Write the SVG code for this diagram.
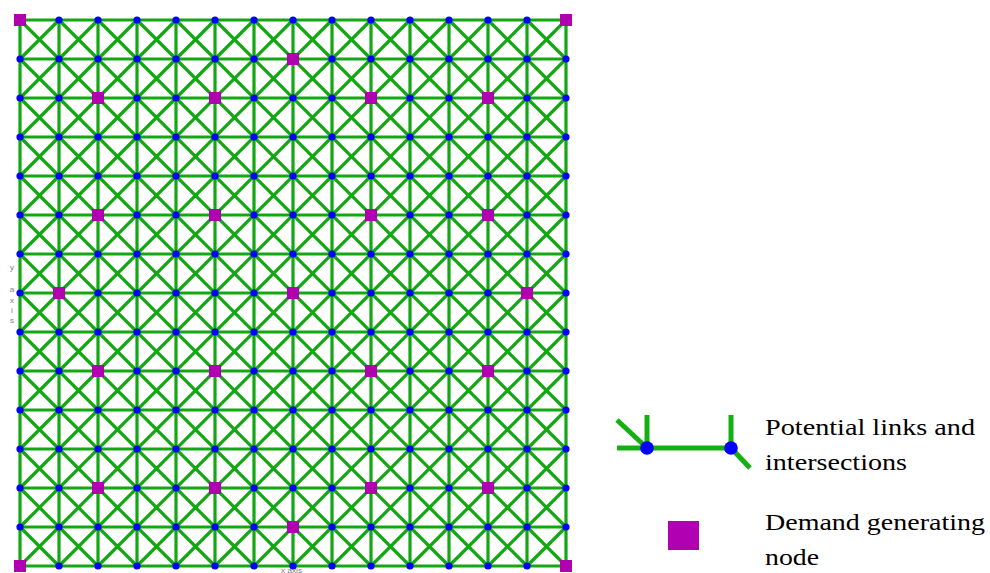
<svg xmlns="http://www.w3.org/2000/svg" xmlns:xlink="http://www.w3.org/1999/xlink" width="990" height="573" viewBox="0 0 990 573">
<style>
.link{fill:none;stroke:#12a812;stroke-width:3.2;stroke-linecap:butt}
.leglink{fill:none;stroke:#14b014;stroke-width:5}
.dem{fill:#b000b0}
.axis{font-family:"Liberation Sans",Arial,sans-serif;font-size:8px;fill:#808080}
.lab{font-family:"Liberation Serif","Times New Roman",serif;font-size:24px;fill:#000}
</style>
<defs>
<circle id="dot" cx="0" cy="0" r="3.6" fill="#0000ff"/>
</defs>
<rect width="990" height="573" fill="#fff"/>
<g id="connectors">
<path class="link" d="M20 20L566 566M59 20L566 527M98 20L566 488M137 20L566 449M176 20L566 410M215 20L566 371M254 20L566 332M293 20L566 293M332 20L566 254M371 20L566 215M410 20L566 176M449 20L566 137M488 20L566 98M527 20L566 59M20 59L527 566M20 98L488 566M20 137L449 566M20 176L410 566M20 215L371 566M20 254L332 566M20 293L293 566M20 332L254 566M20 371L215 566M20 410L176 566M20 449L137 566M20 488L98 566M20 527L59 566"/>
<path class="link" d="M59 20L20 59M98 20L20 98M137 20L20 137M176 20L20 176M215 20L20 215M254 20L20 254M293 20L20 293M332 20L20 332M371 20L20 371M410 20L20 410M449 20L20 449M488 20L20 488M527 20L20 527M566 20L20 566M566 59L59 566M566 98L98 566M566 137L137 566M566 176L176 566M566 215L215 566M566 254L254 566M566 293L293 566M566 332L332 566M566 371L371 566M566 410L410 566M566 449L449 566M566 488L488 566M566 527L527 566"/>
<path class="link" d="M20 20H566M20 59H566M20 98H566M20 137H566M20 176H566M20 215H566M20 254H566M20 293H566M20 332H566M20 371H566M20 410H566M20 449H566M20 488H566M20 527H566M20 566H566"/>
<path class="link" d="M20 20V566M59 20V566M98 20V566M137 20V566M176 20V566M215 20V566M254 20V566M293 20V566M332 20V566M371 20V566M410 20V566M449 20V566M488 20V566M527 20V566M566 20V566"/>
</g>
<g id="intersections">
<g id="p0-1"><use href="#dot" x="59" y="20"/></g><g id="p0-2"><use href="#dot" x="98" y="20"/></g><g id="p0-3"><use href="#dot" x="137" y="20"/></g><g id="p0-4"><use href="#dot" x="176" y="20"/></g><g id="p0-5"><use href="#dot" x="215" y="20"/></g><g id="p0-6"><use href="#dot" x="254" y="20"/></g><g id="p0-7"><use href="#dot" x="293" y="20"/></g><g id="p0-8"><use href="#dot" x="332" y="20"/></g><g id="p0-9"><use href="#dot" x="371" y="20"/></g><g id="p0-10"><use href="#dot" x="410" y="20"/></g><g id="p0-11"><use href="#dot" x="449" y="20"/></g><g id="p0-12"><use href="#dot" x="488" y="20"/></g><g id="p0-13"><use href="#dot" x="527" y="20"/></g>
<g id="p1-0"><use href="#dot" x="20" y="59"/></g><g id="p1-1"><use href="#dot" x="59" y="59"/></g><g id="p1-2"><use href="#dot" x="98" y="59"/></g><g id="p1-3"><use href="#dot" x="137" y="59"/></g><g id="p1-4"><use href="#dot" x="176" y="59"/></g><g id="p1-5"><use href="#dot" x="215" y="59"/></g><g id="p1-6"><use href="#dot" x="254" y="59"/></g><g id="p1-8"><use href="#dot" x="332" y="59"/></g><g id="p1-9"><use href="#dot" x="371" y="59"/></g><g id="p1-10"><use href="#dot" x="410" y="59"/></g><g id="p1-11"><use href="#dot" x="449" y="59"/></g><g id="p1-12"><use href="#dot" x="488" y="59"/></g><g id="p1-13"><use href="#dot" x="527" y="59"/></g><g id="p1-14"><use href="#dot" x="566" y="59"/></g>
<g id="p2-0"><use href="#dot" x="20" y="98"/></g><g id="p2-1"><use href="#dot" x="59" y="98"/></g><g id="p2-3"><use href="#dot" x="137" y="98"/></g><g id="p2-4"><use href="#dot" x="176" y="98"/></g><g id="p2-6"><use href="#dot" x="254" y="98"/></g><g id="p2-7"><use href="#dot" x="293" y="98"/></g><g id="p2-8"><use href="#dot" x="332" y="98"/></g><g id="p2-10"><use href="#dot" x="410" y="98"/></g><g id="p2-11"><use href="#dot" x="449" y="98"/></g><g id="p2-13"><use href="#dot" x="527" y="98"/></g><g id="p2-14"><use href="#dot" x="566" y="98"/></g>
<g id="p3-0"><use href="#dot" x="20" y="137"/></g><g id="p3-1"><use href="#dot" x="59" y="137"/></g><g id="p3-2"><use href="#dot" x="98" y="137"/></g><g id="p3-3"><use href="#dot" x="137" y="137"/></g><g id="p3-4"><use href="#dot" x="176" y="137"/></g><g id="p3-5"><use href="#dot" x="215" y="137"/></g><g id="p3-6"><use href="#dot" x="254" y="137"/></g><g id="p3-7"><use href="#dot" x="293" y="137"/></g><g id="p3-8"><use href="#dot" x="332" y="137"/></g><g id="p3-9"><use href="#dot" x="371" y="137"/></g><g id="p3-10"><use href="#dot" x="410" y="137"/></g><g id="p3-11"><use href="#dot" x="449" y="137"/></g><g id="p3-12"><use href="#dot" x="488" y="137"/></g><g id="p3-13"><use href="#dot" x="527" y="137"/></g><g id="p3-14"><use href="#dot" x="566" y="137"/></g>
<g id="p4-0"><use href="#dot" x="20" y="176"/></g><g id="p4-1"><use href="#dot" x="59" y="176"/></g><g id="p4-2"><use href="#dot" x="98" y="176"/></g><g id="p4-3"><use href="#dot" x="137" y="176"/></g><g id="p4-4"><use href="#dot" x="176" y="176"/></g><g id="p4-5"><use href="#dot" x="215" y="176"/></g><g id="p4-6"><use href="#dot" x="254" y="176"/></g><g id="p4-7"><use href="#dot" x="293" y="176"/></g><g id="p4-8"><use href="#dot" x="332" y="176"/></g><g id="p4-9"><use href="#dot" x="371" y="176"/></g><g id="p4-10"><use href="#dot" x="410" y="176"/></g><g id="p4-11"><use href="#dot" x="449" y="176"/></g><g id="p4-12"><use href="#dot" x="488" y="176"/></g><g id="p4-13"><use href="#dot" x="527" y="176"/></g><g id="p4-14"><use href="#dot" x="566" y="176"/></g>
<g id="p5-0"><use href="#dot" x="20" y="215"/></g><g id="p5-1"><use href="#dot" x="59" y="215"/></g><g id="p5-3"><use href="#dot" x="137" y="215"/></g><g id="p5-4"><use href="#dot" x="176" y="215"/></g><g id="p5-6"><use href="#dot" x="254" y="215"/></g><g id="p5-7"><use href="#dot" x="293" y="215"/></g><g id="p5-8"><use href="#dot" x="332" y="215"/></g><g id="p5-10"><use href="#dot" x="410" y="215"/></g><g id="p5-11"><use href="#dot" x="449" y="215"/></g><g id="p5-13"><use href="#dot" x="527" y="215"/></g><g id="p5-14"><use href="#dot" x="566" y="215"/></g>
<g id="p6-0"><use href="#dot" x="20" y="254"/></g><g id="p6-1"><use href="#dot" x="59" y="254"/></g><g id="p6-2"><use href="#dot" x="98" y="254"/></g><g id="p6-3"><use href="#dot" x="137" y="254"/></g><g id="p6-4"><use href="#dot" x="176" y="254"/></g><g id="p6-5"><use href="#dot" x="215" y="254"/></g><g id="p6-6"><use href="#dot" x="254" y="254"/></g><g id="p6-7"><use href="#dot" x="293" y="254"/></g><g id="p6-8"><use href="#dot" x="332" y="254"/></g><g id="p6-9"><use href="#dot" x="371" y="254"/></g><g id="p6-10"><use href="#dot" x="410" y="254"/></g><g id="p6-11"><use href="#dot" x="449" y="254"/></g><g id="p6-12"><use href="#dot" x="488" y="254"/></g><g id="p6-13"><use href="#dot" x="527" y="254"/></g><g id="p6-14"><use href="#dot" x="566" y="254"/></g>
<g id="p7-0"><use href="#dot" x="20" y="293"/></g><g id="p7-2"><use href="#dot" x="98" y="293"/></g><g id="p7-3"><use href="#dot" x="137" y="293"/></g><g id="p7-4"><use href="#dot" x="176" y="293"/></g><g id="p7-5"><use href="#dot" x="215" y="293"/></g><g id="p7-6"><use href="#dot" x="254" y="293"/></g><g id="p7-8"><use href="#dot" x="332" y="293"/></g><g id="p7-9"><use href="#dot" x="371" y="293"/></g><g id="p7-10"><use href="#dot" x="410" y="293"/></g><g id="p7-11"><use href="#dot" x="449" y="293"/></g><g id="p7-12"><use href="#dot" x="488" y="293"/></g><g id="p7-14"><use href="#dot" x="566" y="293"/></g>
<g id="p8-0"><use href="#dot" x="20" y="332"/></g><g id="p8-1"><use href="#dot" x="59" y="332"/></g><g id="p8-2"><use href="#dot" x="98" y="332"/></g><g id="p8-3"><use href="#dot" x="137" y="332"/></g><g id="p8-4"><use href="#dot" x="176" y="332"/></g><g id="p8-5"><use href="#dot" x="215" y="332"/></g><g id="p8-6"><use href="#dot" x="254" y="332"/></g><g id="p8-7"><use href="#dot" x="293" y="332"/></g><g id="p8-8"><use href="#dot" x="332" y="332"/></g><g id="p8-9"><use href="#dot" x="371" y="332"/></g><g id="p8-10"><use href="#dot" x="410" y="332"/></g><g id="p8-11"><use href="#dot" x="449" y="332"/></g><g id="p8-12"><use href="#dot" x="488" y="332"/></g><g id="p8-13"><use href="#dot" x="527" y="332"/></g><g id="p8-14"><use href="#dot" x="566" y="332"/></g>
<g id="p9-0"><use href="#dot" x="20" y="371"/></g><g id="p9-1"><use href="#dot" x="59" y="371"/></g><g id="p9-3"><use href="#dot" x="137" y="371"/></g><g id="p9-4"><use href="#dot" x="176" y="371"/></g><g id="p9-6"><use href="#dot" x="254" y="371"/></g><g id="p9-7"><use href="#dot" x="293" y="371"/></g><g id="p9-8"><use href="#dot" x="332" y="371"/></g><g id="p9-10"><use href="#dot" x="410" y="371"/></g><g id="p9-11"><use href="#dot" x="449" y="371"/></g><g id="p9-13"><use href="#dot" x="527" y="371"/></g><g id="p9-14"><use href="#dot" x="566" y="371"/></g>
<g id="p10-0"><use href="#dot" x="20" y="410"/></g><g id="p10-1"><use href="#dot" x="59" y="410"/></g><g id="p10-2"><use href="#dot" x="98" y="410"/></g><g id="p10-3"><use href="#dot" x="137" y="410"/></g><g id="p10-4"><use href="#dot" x="176" y="410"/></g><g id="p10-5"><use href="#dot" x="215" y="410"/></g><g id="p10-6"><use href="#dot" x="254" y="410"/></g><g id="p10-7"><use href="#dot" x="293" y="410"/></g><g id="p10-8"><use href="#dot" x="332" y="410"/></g><g id="p10-9"><use href="#dot" x="371" y="410"/></g><g id="p10-10"><use href="#dot" x="410" y="410"/></g><g id="p10-11"><use href="#dot" x="449" y="410"/></g><g id="p10-12"><use href="#dot" x="488" y="410"/></g><g id="p10-13"><use href="#dot" x="527" y="410"/></g><g id="p10-14"><use href="#dot" x="566" y="410"/></g>
<g id="p11-0"><use href="#dot" x="20" y="449"/></g><g id="p11-1"><use href="#dot" x="59" y="449"/></g><g id="p11-2"><use href="#dot" x="98" y="449"/></g><g id="p11-3"><use href="#dot" x="137" y="449"/></g><g id="p11-4"><use href="#dot" x="176" y="449"/></g><g id="p11-5"><use href="#dot" x="215" y="449"/></g><g id="p11-6"><use href="#dot" x="254" y="449"/></g><g id="p11-7"><use href="#dot" x="293" y="449"/></g><g id="p11-8"><use href="#dot" x="332" y="449"/></g><g id="p11-9"><use href="#dot" x="371" y="449"/></g><g id="p11-10"><use href="#dot" x="410" y="449"/></g><g id="p11-11"><use href="#dot" x="449" y="449"/></g><g id="p11-12"><use href="#dot" x="488" y="449"/></g><g id="p11-13"><use href="#dot" x="527" y="449"/></g><g id="p11-14"><use href="#dot" x="566" y="449"/></g>
<g id="p12-0"><use href="#dot" x="20" y="488"/></g><g id="p12-1"><use href="#dot" x="59" y="488"/></g><g id="p12-3"><use href="#dot" x="137" y="488"/></g><g id="p12-4"><use href="#dot" x="176" y="488"/></g><g id="p12-6"><use href="#dot" x="254" y="488"/></g><g id="p12-7"><use href="#dot" x="293" y="488"/></g><g id="p12-8"><use href="#dot" x="332" y="488"/></g><g id="p12-10"><use href="#dot" x="410" y="488"/></g><g id="p12-11"><use href="#dot" x="449" y="488"/></g><g id="p12-13"><use href="#dot" x="527" y="488"/></g><g id="p12-14"><use href="#dot" x="566" y="488"/></g>
<g id="p13-0"><use href="#dot" x="20" y="527"/></g><g id="p13-1"><use href="#dot" x="59" y="527"/></g><g id="p13-2"><use href="#dot" x="98" y="527"/></g><g id="p13-3"><use href="#dot" x="137" y="527"/></g><g id="p13-4"><use href="#dot" x="176" y="527"/></g><g id="p13-5"><use href="#dot" x="215" y="527"/></g><g id="p13-6"><use href="#dot" x="254" y="527"/></g><g id="p13-8"><use href="#dot" x="332" y="527"/></g><g id="p13-9"><use href="#dot" x="371" y="527"/></g><g id="p13-10"><use href="#dot" x="410" y="527"/></g><g id="p13-11"><use href="#dot" x="449" y="527"/></g><g id="p13-12"><use href="#dot" x="488" y="527"/></g><g id="p13-13"><use href="#dot" x="527" y="527"/></g><g id="p13-14"><use href="#dot" x="566" y="527"/></g>
<g id="p14-1"><use href="#dot" x="59" y="566"/></g><g id="p14-2"><use href="#dot" x="98" y="566"/></g><g id="p14-3"><use href="#dot" x="137" y="566"/></g><g id="p14-4"><use href="#dot" x="176" y="566"/></g><g id="p14-5"><use href="#dot" x="215" y="566"/></g><g id="p14-6"><use href="#dot" x="254" y="566"/></g><g id="p14-7"><use href="#dot" x="293" y="566"/></g><g id="p14-8"><use href="#dot" x="332" y="566"/></g><g id="p14-9"><use href="#dot" x="371" y="566"/></g><g id="p14-10"><use href="#dot" x="410" y="566"/></g><g id="p14-11"><use href="#dot" x="449" y="566"/></g><g id="p14-12"><use href="#dot" x="488" y="566"/></g><g id="p14-13"><use href="#dot" x="527" y="566"/></g>
</g>
<g id="demand-nodes">
<g id="d0-0"><rect class="dem" x="14" y="14" width="12" height="12"/></g>
<g id="d0-14"><rect class="dem" x="560" y="14" width="12" height="12"/></g>
<g id="d1-7"><rect class="dem" x="287" y="53" width="12" height="12"/></g>
<g id="d2-2"><rect class="dem" x="92" y="92" width="12" height="12"/></g>
<g id="d2-5"><rect class="dem" x="209" y="92" width="12" height="12"/></g>
<g id="d2-9"><rect class="dem" x="365" y="92" width="12" height="12"/></g>
<g id="d2-12"><rect class="dem" x="482" y="92" width="12" height="12"/></g>
<g id="d5-2"><rect class="dem" x="92" y="209" width="12" height="12"/></g>
<g id="d5-5"><rect class="dem" x="209" y="209" width="12" height="12"/></g>
<g id="d5-9"><rect class="dem" x="365" y="209" width="12" height="12"/></g>
<g id="d5-12"><rect class="dem" x="482" y="209" width="12" height="12"/></g>
<g id="d7-1"><rect class="dem" x="53" y="287" width="12" height="12"/></g>
<g id="d7-7"><rect class="dem" x="287" y="287" width="12" height="12"/></g>
<g id="d7-13"><rect class="dem" x="521" y="287" width="12" height="12"/></g>
<g id="d9-2"><rect class="dem" x="92" y="365" width="12" height="12"/></g>
<g id="d9-5"><rect class="dem" x="209" y="365" width="12" height="12"/></g>
<g id="d9-9"><rect class="dem" x="365" y="365" width="12" height="12"/></g>
<g id="d9-12"><rect class="dem" x="482" y="365" width="12" height="12"/></g>
<g id="d12-2"><rect class="dem" x="92" y="482" width="12" height="12"/></g>
<g id="d12-5"><rect class="dem" x="209" y="482" width="12" height="12"/></g>
<g id="d12-9"><rect class="dem" x="365" y="482" width="12" height="12"/></g>
<g id="d12-12"><rect class="dem" x="482" y="482" width="12" height="12"/></g>
<g id="d13-7"><rect class="dem" x="287" y="521" width="12" height="12"/></g>
<g id="d14-0"><rect class="dem" x="14" y="560" width="12" height="12"/></g>
<g id="d14-14"><rect class="dem" x="560" y="560" width="12" height="12"/></g>
</g>
<g id="axis-labels">
<text class="axis" x="12" y="270" text-anchor="middle">y</text>
<text class="axis" x="12" y="292" text-anchor="middle">a</text>
<text class="axis" x="12" y="303" text-anchor="middle">x</text>
<text class="axis" x="12" y="313" text-anchor="middle">i</text>
<text class="axis" x="12" y="323" text-anchor="middle">s</text>
<text class="axis" x="281" y="572.5" font-size="5" textLength="21" lengthAdjust="spacingAndGlyphs">x axis</text>
</g>
<g id="legend">
<g id="legend-links">
<path class="leglink" d="M617 448H731M647 415V448M731 415V448M617 420L647 448M731 448L750 468"/>
<use href="#dot" x="647" y="448" transform="translate(647 448) scale(1.9) translate(-647 -448)"/>
<use href="#dot" x="731" y="448" transform="translate(731 448) scale(1.9) translate(-731 -448)"/>
<text class="lab" x="765" y="435" textLength="210" lengthAdjust="spacingAndGlyphs">Potential links and</text>
<text class="lab" x="765" y="470" textLength="142" lengthAdjust="spacingAndGlyphs">intersections</text>
</g>
<g id="legend-demand">
<rect class="dem" x="668" y="521" width="31" height="29"/>
<text class="lab" x="765" y="530" textLength="220" lengthAdjust="spacingAndGlyphs">Demand generating</text>
<text class="lab" x="765" y="565" textLength="54" lengthAdjust="spacingAndGlyphs">node</text>
</g>
</g>
</svg>
